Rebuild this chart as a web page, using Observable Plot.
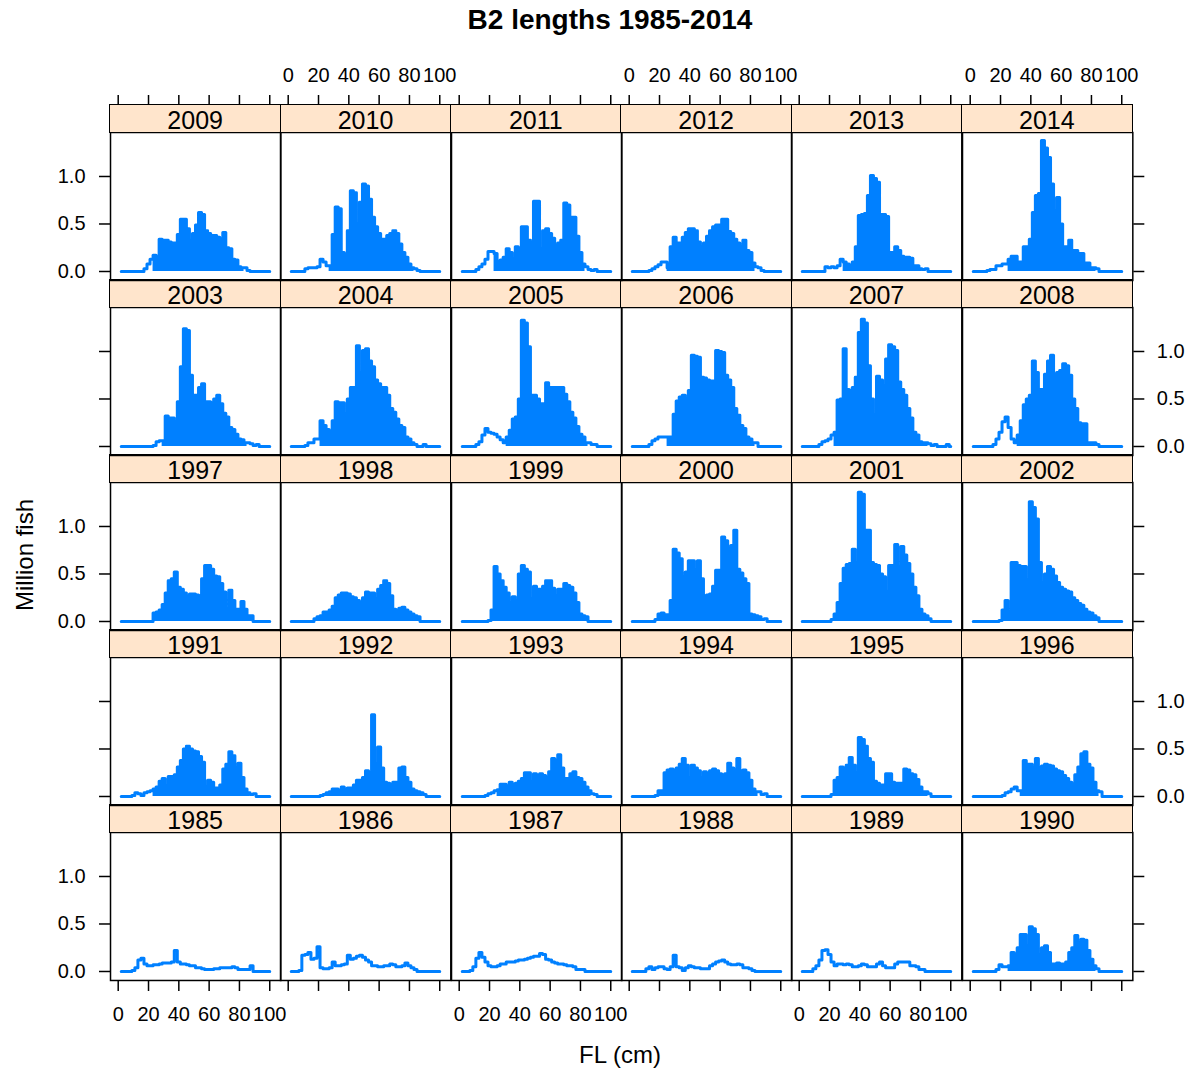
<!DOCTYPE html>
<html><head><meta charset="utf-8">
<script src="https://cdn.jsdelivr.net/npm/d3@7"></script>
<script src="https://cdn.jsdelivr.net/npm/@observablehq/plot@0.6"></script>
<style>
html,body{margin:0;padding:0;background:#fff;}
#root{position:relative;width:1193px;height:1072px;overflow:hidden;font-family:"Liberation Sans",Arial,Helvetica,sans-serif;color:#000;background:#fff;}
.strip{position:absolute;box-sizing:border-box;background:#FFE5CC;border:1.5px solid #000;display:flex;align-items:center;justify-content:center;font-size:25px;line-height:1;padding-top:4px;}
.lbl{position:absolute;white-space:nowrap;transform:translate(-50%,-50%);line-height:1;}
</style></head><body><div id="root"></div>
<script>
// ---- data (million fish by fork-length bin, cm) ----
const fl = [2,4,6,8,10,12,14,16,18,20,22,24,26,28,30,32,34,36,38,40,42,44,46,48,50,52,54,56,58,60,62,64,66,68,70,72,74,76,78,80,82,84,86,88,90,92,94,96,98,100];
const years = [1985,1986,1987,1988,1989,1990,1991,1992,1993,1994,1995,1996,1997,1998,1999,2000,2001,2002,2003,2004,2005,2006,2007,2008,2009,2010,2011,2012,2013,2014];
const xTicks = [0,20,40,60,80,100];
const yTicks = [0,0.5,1.0];

const y1985 = [0,0,0,0,0.01,0.04,0.12,0.14,0.08,0.06,0.06,0.07,0.07,0.08,0.09,0.09,0.09,0.1,0.22,0.1,0.08,0.08,0.07,0.06,0.06,0.04,0.04,0.03,0.02,0.02,0.02,0.03,0.03,0.04,0.04,0.04,0.04,0.05,0.04,0.02,0.02,0.02,0.02,0.06,0,0,0,0,0,0];
const y1986 = [0,0,0,0.01,0.17,0.18,0.2,0.13,0.14,0.26,0.04,0.03,0.03,0.04,0.1,0.06,0.06,0.07,0.08,0.17,0.13,0.14,0.16,0.17,0.15,0.12,0.1,0.06,0.06,0.05,0.05,0.06,0.06,0.08,0.07,0.05,0.05,0.06,0.09,0.06,0.04,0.02,0,0,0,0,0,0,0,0];
const y1987 = [0,0,0,0.01,0.05,0.14,0.2,0.15,0.1,0.06,0.05,0.05,0.06,0.08,0.08,0.1,0.1,0.1,0.11,0.12,0.12,0.13,0.14,0.15,0.16,0.16,0.19,0.18,0.13,0.12,0.1,0.09,0.08,0.08,0.07,0.06,0.06,0.05,0.02,0.02,0.02,0,0,0,0,0,0,0,0,0];
const y1988 = [0,0,0,0,0,0.03,0.05,0.02,0.04,0.05,0.05,0.03,0.02,0.05,0.17,0.05,0.04,0.01,0.04,0.06,0.05,0.04,0.04,0.03,0.03,0.03,0.06,0.08,0.1,0.11,0.12,0.1,0.08,0.07,0.07,0.08,0.07,0.04,0.04,0.03,0.01,0,0,0,0,0,0,0,0,0];
const y1989 = [0,0,0,0,0.03,0.06,0.12,0.22,0.23,0.18,0.1,0.06,0.08,0.08,0.07,0.08,0.07,0.05,0.05,0.06,0.08,0.07,0.05,0.05,0.05,0.08,0.1,0.06,0.04,0.04,0.04,0.08,0.1,0.1,0.1,0.1,0.06,0.06,0.05,0.02,0.02,0,0,0,0,0,0,0,0,0];
const y1990 = [0,0,0,0,0,0,0,0,0.02,0.07,0.05,0.05,0.06,0.2,0.18,0.25,0.39,0.39,0.27,0.47,0.45,0.39,0.17,0.25,0.27,0.2,0.08,0.08,0.09,0.08,0.08,0.1,0.2,0.25,0.38,0.3,0.34,0.33,0.22,0.13,0.06,0.03,0,0,0,0,0,0,0,0];
const y1991 = [0,0,0,0,0.01,0.04,0.03,0.01,0.04,0.05,0.06,0.08,0.1,0.16,0.19,0.11,0.21,0.21,0.23,0.31,0.38,0.5,0.53,0.5,0.48,0.47,0.42,0.36,0.1,0.17,0.15,0.09,0.09,0.12,0.29,0.34,0.47,0.43,0.3,0.35,0.2,0.08,0.04,0.02,0.03,0,0,0,0,0];
const y1992 = [0,0,0,0,0,0,0,0,0,0,0.01,0.02,0.04,0.05,0.08,0.08,0.06,0.1,0.08,0.09,0.09,0.12,0.17,0.17,0.2,0.27,0.25,0.86,0.34,0.52,0.3,0.15,0.14,0.13,0.15,0.15,0.3,0.31,0.2,0.15,0.08,0.06,0.05,0.04,0.02,0,0,0,0,0];
const y1993 = [0,0,0,0,0,0,0,0,0.01,0.03,0.04,0.06,0.07,0.13,0.13,0.1,0.15,0.13,0.14,0.16,0.19,0.25,0.25,0.15,0.24,0.2,0.24,0.22,0.2,0.26,0.4,0.38,0.44,0.3,0.19,0.19,0.24,0.26,0.2,0.19,0.15,0.1,0.06,0.03,0.02,0,0,0,0,0];
const y1994 = [0,0,0,0,0,0,0,0,0.01,0.06,0.06,0.25,0.28,0.29,0.27,0.3,0.34,0.4,0.33,0.2,0.33,0.3,0.27,0.2,0.26,0.24,0.27,0.29,0.27,0.24,0.23,0.24,0.35,0.3,0.27,0.4,0.27,0.28,0.25,0.17,0.08,0.05,0.05,0.02,0.03,0,0,0,0,0];
const y1995 = [0,0,0,0,0,0,0,0,0,0,0.02,0.17,0.2,0.31,0.3,0.33,0.41,0.33,0.25,0.62,0.6,0.53,0.4,0.36,0.16,0.14,0.12,0.12,0.24,0.24,0.15,0.14,0.14,0.14,0.29,0.28,0.24,0.23,0.18,0.1,0.05,0.05,0.03,0,0,0,0,0,0,0];
const y1996 = [0,0,0,0,0,0,0,0,0,0,0.01,0.04,0.05,0.08,0.1,0.06,0.06,0.38,0.34,0.34,0.3,0.4,0.3,0.32,0.34,0.33,0.32,0.29,0.27,0.26,0.22,0.19,0.15,0.13,0.23,0.31,0.45,0.47,0.34,0.3,0.15,0.06,0.05,0,0,0,0,0,0,0];
const y1997 = [0,0,0,0,0,0,0,0,0,0,0,0.09,0.1,0.12,0.18,0.3,0.43,0.45,0.52,0.36,0.34,0.3,0.26,0.29,0.29,0.28,0.27,0.45,0.59,0.59,0.55,0.48,0.47,0.4,0.31,0.13,0.33,0.22,0.13,0.13,0.21,0.13,0.06,0.06,0,0,0,0,0,0];
const y1998 = [0,0,0,0,0,0,0,0,0.03,0.05,0.06,0.1,0.1,0.12,0.16,0.25,0.28,0.3,0.3,0.29,0.26,0.25,0.22,0.2,0.25,0.31,0.3,0.3,0.24,0.34,0.38,0.43,0.4,0.27,0.13,0.12,0.14,0.15,0.12,0.1,0.08,0.06,0.05,0,0,0,0,0,0,0];
const y1999 = [0,0,0,0,0,0,0,0,0,0.01,0.12,0.58,0.5,0.43,0.36,0.3,0.2,0.26,0.22,0.5,0.59,0.55,0.52,0.24,0.37,0.34,0.34,0.37,0.43,0.43,0.35,0.27,0.34,0.34,0.4,0.38,0.36,0.3,0.2,0.08,0.06,0.05,0,0,0,0,0,0,0,0];
const y2000 = [0,0,0,0,0,0,0,0,0.02,0.08,0.09,0.07,0.07,0.22,0.76,0.72,0.66,0.47,0.52,0.64,0.64,0.54,0.64,0.45,0.27,0.28,0.29,0.37,0.54,0.54,0.89,0.85,0.76,0.8,0.96,0.55,0.51,0.45,0.4,0.08,0.07,0.06,0.05,0.02,0.03,0,0,0,0,0];
const y2001 = [0,0,0,0,0,0,0,0,0,0,0.02,0.08,0.2,0.4,0.56,0.6,0.61,0.76,0.62,1.36,1.34,0.96,0.96,0.62,0.6,0.59,0.5,0.47,0.31,0.59,0.59,0.81,0.58,0.79,0.7,0.61,0.5,0.36,0.27,0.13,0.08,0.06,0.03,0,0,0,0,0,0,0];
const y2002 = [0,0,0,0,0,0,0,0,0,0.01,0.12,0.22,0.1,0.62,0.62,0.59,0.58,0.58,0.44,1.26,1.2,1.08,0.62,0.41,0.5,0.58,0.55,0.48,0.41,0.36,0.34,0.32,0.31,0.25,0.22,0.19,0.17,0.13,0.1,0.09,0.06,0.04,0,0,0,0,0,0,0,0];
const y2003 = [0,0,0,0,0,0,0,0,0,0,0,0.01,0.05,0.06,0.06,0.32,0.3,0.3,0.26,0.47,0.84,1.24,1.22,0.75,0.54,0.54,0.62,0.66,0.47,0.47,0.46,0.5,0.54,0.45,0.35,0.31,0.2,0.18,0.13,0.08,0.07,0.04,0.04,0.03,0.01,0.02,0,0,0,0];
const y2004 = [0,0,0,0,0,0.01,0.04,0.04,0.08,0.08,0.27,0.22,0.18,0.16,0.27,0.47,0.46,0.46,0.34,0.5,0.62,0.62,1.06,0.77,1.01,1.03,0.9,0.84,0.7,0.66,0.62,0.62,0.54,0.4,0.36,0.29,0.22,0.2,0.1,0.08,0.04,0.02,0,0,0.02,0,0,0,0,0];
const y2005 = [0,0,0,0,0,0.02,0.05,0.12,0.19,0.15,0.14,0.13,0.1,0.07,0.04,0.1,0.17,0.29,0.31,0.5,1.33,1.3,1.05,0.54,0.54,0.5,0.45,0.45,0.67,0.62,0.62,0.62,0.62,0.62,0.55,0.47,0.36,0.3,0.21,0.13,0.1,0.04,0.04,0.02,0.02,0,0,0,0,0];
const y2006 = [0,0,0,0,0,0,0.02,0.06,0.08,0.1,0.1,0.1,0.1,0.1,0.34,0.48,0.52,0.54,0.5,0.59,0.96,0.95,0.94,0.73,0.72,0.7,0.69,0.69,1.01,1.0,0.99,0.75,0.7,0.62,0.4,0.33,0.22,0.19,0.1,0.08,0.04,0.04,0,0,0,0,0,0,0,0];
const y2007 = [0,0,0,0,0,0,0.02,0.05,0.06,0.08,0.12,0.15,0.49,0.5,1.03,0.6,0.59,0.62,0.73,1.2,1.34,1.3,0.85,0.5,0.33,0.74,0.7,0.64,0.92,1.07,1.05,1.01,0.68,0.6,0.54,0.4,0.3,0.15,0.12,0.05,0.04,0.04,0.03,0.01,0.02,0,0,0,0.02,0];
const y2008 = [0,0,0,0,0,0,0,0.02,0.08,0.15,0.26,0.31,0.2,0.08,0.04,0.12,0.27,0.44,0.5,0.54,0.9,0.78,0.6,0.6,0.76,0.9,0.96,0.75,0.78,0.8,0.87,0.85,0.75,0.5,0.4,0.25,0.24,0.24,0.04,0.04,0.04,0.02,0,0,0,0,0,0,0,0];
const y2009 = [0,0,0,0,0,0,0,0,0.03,0.08,0.13,0.17,0.15,0.34,0.33,0.33,0.31,0.3,0.3,0.39,0.55,0.55,0.45,0.33,0.4,0.49,0.62,0.6,0.43,0.4,0.38,0.38,0.36,0.34,0.41,0.25,0.24,0.13,0.12,0.05,0.04,0.04,0.01,0,0,0,0,0,0,0];
const y2010 = [0,0,0,0,0,0.03,0.04,0.04,0.04,0.05,0.13,0.1,0.06,0.06,0.39,0.68,0.66,0.2,0.17,0.43,0.85,0.83,0.5,0.73,0.92,0.9,0.76,0.57,0.47,0.4,0.34,0.34,0.38,0.4,0.43,0.4,0.29,0.2,0.15,0.08,0.04,0.03,0.01,0,0,0,0,0,0,0];
const y2011 = [0,0,0,0,0,0.02,0.05,0.08,0.13,0.21,0.21,0.19,0.1,0.12,0.15,0.24,0.2,0.13,0.26,0.24,0.47,0.47,0.33,0.3,0.74,0.74,0.24,0.43,0.45,0.4,0.35,0.27,0.3,0.33,0.72,0.7,0.57,0.57,0.37,0.2,0.08,0.05,0.02,0.01,0.02,0,0,0,0,0];
const y2012 = [0,0,0,0,0,0,0.01,0.03,0.05,0.07,0.1,0.1,0.04,0.26,0.36,0.3,0.3,0.36,0.41,0.45,0.45,0.43,0.31,0.26,0.3,0.37,0.43,0.47,0.49,0.49,0.55,0.55,0.42,0.4,0.34,0.3,0.26,0.33,0.22,0.2,0.09,0.05,0.04,0.01,0,0,0,0,0,0];
const y2013 = [0,0,0,0,0,0,0,0,0.05,0.04,0.05,0.04,0.06,0.13,0.1,0.08,0.06,0.1,0.26,0.59,0.6,0.61,0.8,1.01,0.98,0.94,0.6,0.6,0.58,0.2,0.2,0.26,0.22,0.16,0.15,0.15,0.14,0.06,0.06,0.03,0.02,0.03,0,0,0,0,0,0,0,0];
const y2014 = [0,0,0,0,0,0.01,0.02,0.02,0.06,0.06,0.08,0.08,0.13,0.16,0.16,0.1,0.1,0.26,0.26,0.34,0.62,0.8,0.82,1.38,1.3,1.2,0.92,0.64,0.78,0.5,0.26,0.26,0.33,0.22,0.22,0.19,0.19,0.09,0.09,0.04,0.04,0.03,0,0,0,0,0,0,0,0];

// length range (cm) over which the yearly curve oscillates down to zero (drawn filled)
const fillFrom = [null,null,null,null,null,26, 24,24,26,20,22,34, 24,18,22,18,22,22, 30,22,32,26,24,32, 24,28,24,26,30,26];
const fillTo   = [null,null,null,null,null,82, 86,88,86,84,84,84, 88,88,84,88,86,84, 84,82,84,82,84,82, 82,82,82,82,80,82];

const series = {1985:y1985,1986:y1986,1987:y1987,1988:y1988,1989:y1989,1990:y1990,1991:y1991,1992:y1992,1993:y1993,1994:y1994,1995:y1995,1996:y1996,1997:y1997,1998:y1998,1999:y1999,2000:y2000,2001:y2001,2002:y2002,2003:y2003,2004:y2004,2005:y2005,2006:y2006,2007:y2007,2008:y2008,2009:y2009,2010:y2010,2011:y2011,2012:y2012,2013:y2013,2014:y2014};

// ---- layout ----
const BLUE = "#0080FF";
const FONT = '"Liberation Sans", Arial, Helvetica, sans-serif';
const X0 = 110, CW = 170.33, Y0 = 105, RH = 175, SH = 27, PH = 148;
const xDomain = [-5.08, 107.3], yDomain = [-0.0947, 1.463];
const fmtY = d3.format(".1f");
const blank = () => "";
const root = document.getElementById("root");

function addLabel(text, x, y, css) {
  const d = document.createElement("div");
  d.className = "lbl";
  d.textContent = text;
  d.style.left = x + "px"; d.style.top = y + "px";
  Object.assign(d.style, css || {});
  root.appendChild(d);
  return d;
}

years.forEach((yr, k) => {
  const rb = Math.floor(k / 6), c = k % 6, r = 4 - rb;
  const vals = series[yr];
  const f0 = fillFrom[k], f1 = fillTo[k];
  const data = fl.map((x, i) => ({x, v: vals[i], lo: (f0 != null && x >= f0 && x <= f1) ? 0 : vals[i]}));
  const ax = {tickSize: 11, strokeWidth: 1.5, fontSize: 20, label: null, stroke: "#000", fill: "#000"};
  const marks = [
    Plot.areaY(data, {x: "x", y1: "lo", y2: "v", fill: BLUE, curve: "step"}),
    Plot.lineY(data, {x: "x", y: "v", stroke: BLUE, strokeWidth: 3, curve: "step"}),
    Plot.frame({stroke: "#000", strokeWidth: 1.5})
  ];
  if (c === 0) marks.push(Plot.axisY(yTicks, {...ax, anchor: "left", tickPadding: 14, tickFormat: r % 2 === 0 ? fmtY : blank}));
  if (c === 5) marks.push(Plot.axisY(yTicks, {...ax, anchor: "right", tickPadding: 13, tickFormat: r % 2 === 1 ? fmtY : blank}));
  if (r === 0) marks.push(Plot.axisX(xTicks, {...ax, anchor: "top", dy: -SH, tickPadding: 13, tickFormat: c % 2 === 1 ? (d => String(d)) : blank}));
  if (r === 4) marks.push(Plot.axisX(xTicks, {...ax, anchor: "bottom", tickPadding: 15, tickFormat: c % 2 === 0 ? (d => String(d)) : blank}));
  const svg = Plot.plot({
    width: CW, height: PH, margin: 0,
    x: {domain: xDomain, axis: null},
    y: {domain: yDomain, axis: null},
    style: {overflow: "visible", background: "transparent", fontFamily: FONT, fontSize: "20px", color: "#000"},
    marks
  });
  svg.style.position = "absolute";
  svg.style.left = (X0 + c * CW) + "px";
  svg.style.top = (Y0 + r * RH + SH) + "px";
  svg.style.maxWidth = "none";
  root.appendChild(svg);

  const s = document.createElement("div");
  s.className = "strip";
  s.textContent = String(yr);
  s.style.left = (X0 + c * CW - 0.75) + "px";
  s.style.top = (Y0 + r * RH - 0.75) + "px";
  s.style.width = (CW + 1.5) + "px";
  s.style.height = (SH + 1.5) + "px";
  root.appendChild(s);
});

addLabel("B2 lengths 1985-2014", 610, 20, {fontSize: "28px", fontWeight: "bold"});
addLabel("Million fish", 25, 555, {fontSize: "24px", transform: "translate(-50%,-50%) rotate(-90deg)"});
addLabel("FL (cm)", 620, 1055, {fontSize: "24px"});
</script></body></html>
